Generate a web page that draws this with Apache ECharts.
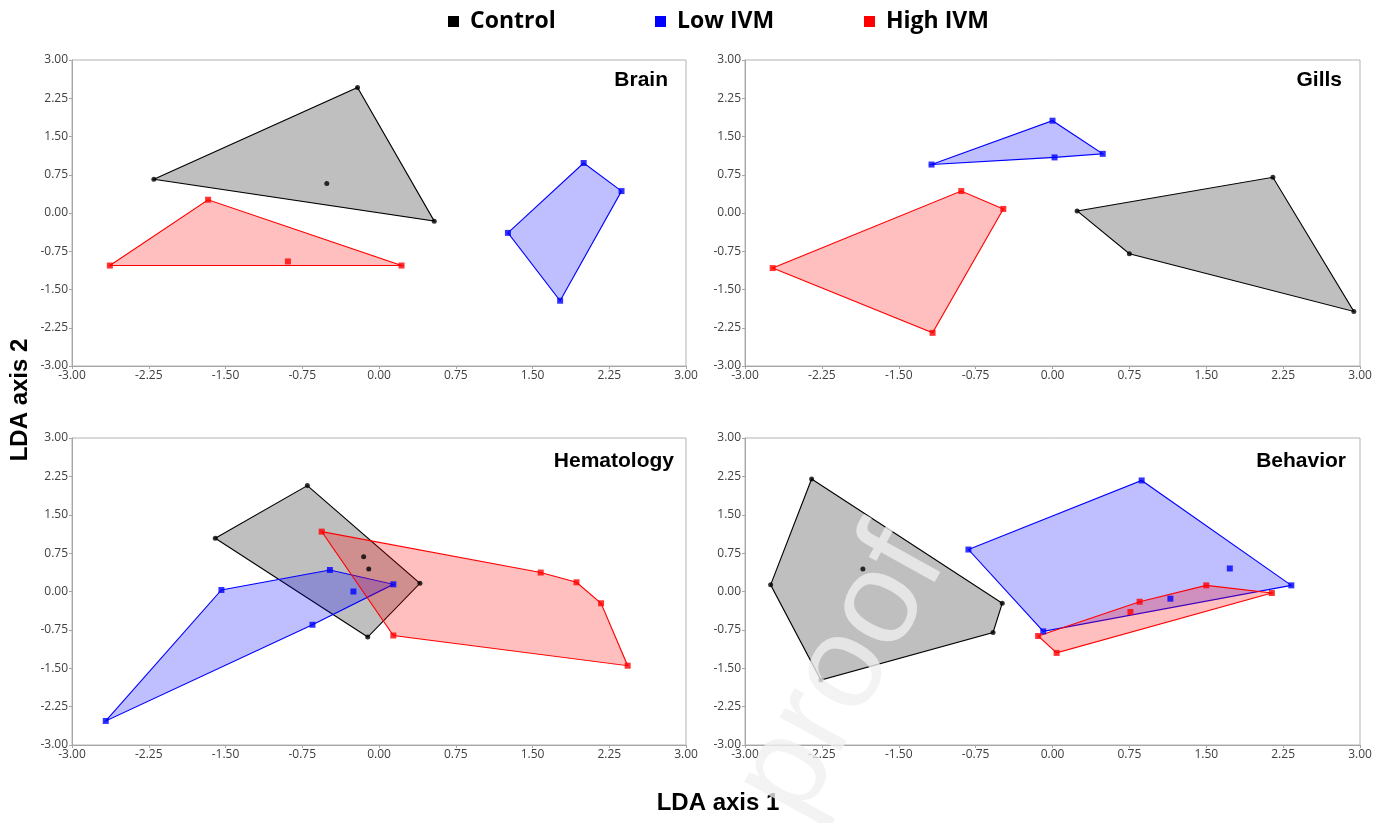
<!DOCTYPE html>
<html>
<head>
<meta charset="utf-8">
<title>LDA convex hulls by tissue</title>
<script src="https://cdn.jsdelivr.net/npm/echarts@6/dist/echarts.min.js"></script>
<style>
  html, body { margin: 0; padding: 0; background: #ffffff; }
  #chart { width: 1393px; height: 823px; }
</style>
</head>
<body>
<div id="chart"></div>
<script>
// Group names and colours
const groups = ['Control', 'Low IVM', 'High IVM'];
const panelTitles = ['Brain', 'Gills', 'Hematology', 'Behavior'];
const axisTicks = [-3, -2.25, -1.5, -0.75, 0, 0.75, 1.5, 2.25, 3];

// Brain: hull vertices (in drawing order) and interior points, [LD1, LD2]
const brainControlHull = [[-2.20, 0.66], [-0.21, 2.46], [0.54, -0.16]];
const brainControlInner = [[-0.51, 0.58]];
const brainLowHull = [[1.26, -0.39], [2.00, 0.98], [2.37, 0.43], [1.77, -1.72]];
const brainLowInner = [];
const brainHighHull = [[-2.63, -1.03], [-1.67, 0.26], [0.22, -1.03]];
const brainHighInner = [[-0.89, -0.95]];

// Gills
const gillsControlHull = [[0.24, 0.04], [2.15, 0.70], [2.94, -1.93], [0.75, -0.80]];
const gillsControlInner = [];
const gillsLowHull = [[-1.18, 0.95], [0.00, 1.81], [0.49, 1.16], [0.02, 1.09]];
const gillsLowInner = [];
const gillsHighHull = [[-2.73, -1.08], [-0.89, 0.43], [-0.48, 0.08], [-1.17, -2.35]];
const gillsHighInner = [];

// Hematology
const hemaControlHull = [[-1.60, 1.04], [-0.70, 2.07], [0.40, 0.16], [-0.11, -0.89]];
const hemaControlInner = [[-0.15, 0.68], [-0.10, 0.44]];
const hemaLowHull = [[-2.67, -2.53], [-1.54, 0.03], [-0.48, 0.42], [0.14, 0.14], [-0.65, -0.65]];
const hemaLowInner = [[-0.25, 0.00]];
const hemaHighHull = [[-0.56, 1.17], [1.58, 0.37], [1.93, 0.18], [2.17, -0.23], [2.43, -1.45], [0.14, -0.86]];
const hemaHighInner = [];

// Behavior
const behavControlHull = [[-2.35, 2.20], [-0.49, -0.23], [-0.58, -0.80], [-2.26, -1.73], [-2.75, 0.13]];
const behavControlInner = [[-1.85, 0.44]];
const behavLowHull = [[-0.82, 0.82], [0.87, 2.17], [2.33, 0.12], [-0.09, -0.78]];
const behavLowInner = [[1.73, 0.45], [1.15, -0.14]];
const behavHighHull = [[-0.14, -0.87], [0.85, -0.20], [1.50, 0.12], [2.14, -0.03], [0.04, -1.20]];
const behavHighInner = [[0.76, -0.40]];

const panels = [
  [[brainControlHull, brainControlInner], [brainLowHull, brainLowInner], [brainHighHull, brainHighInner]],
  [[gillsControlHull, gillsControlInner], [gillsLowHull, gillsLowInner], [gillsHighHull, gillsHighInner]],
  [[hemaControlHull, hemaControlInner], [hemaLowHull, hemaLowInner], [hemaHighHull, hemaHighInner]],
  [[behavControlHull, behavControlInner], [behavLowHull, behavLowInner], [behavHighHull, behavHighInner]]
];

const groupStyle = [
  { color: '#000000', fill: 'rgba(0,0,0,0.25)', symbol: 'circle', size: 5 },
  { color: '#0000ff', fill: 'rgba(0,0,255,0.25)', symbol: 'rect', size: 6 },
  { color: '#ff0000', fill: 'rgba(255,0,0,0.25)', symbol: 'rect', size: 6 }
];

// Plot rectangles: top-left, top-right, bottom-left, bottom-right
const grids = [
  { left: 72, top: 60, width: 614, height: 306 },
  { left: 745, top: 60, width: 615, height: 306 },
  { left: 72, top: 438, width: 614, height: 307 },
  { left: 745, top: 438, width: 615, height: 307 }
].map(g => Object.assign({ show: true, borderColor: '#b3b3b3', borderWidth: 1, backgroundColor: 'transparent' }, g));

const labelStyle = { color: '#404040', fontSize: 12, fontFamily: '"Open Sans", sans-serif' };

function makeAxis(i) {
  return {
    type: 'value', gridIndex: i,
    min: axisTicks[0], max: axisTicks[axisTicks.length - 1], interval: 0.75,
    splitLine: { show: false },
    axisLine: { show: true, onZero: false, lineStyle: { color: '#a6a6a6', width: 1 } },
    axisTick: { show: true, length: 3, lineStyle: { color: '#a6a6a6' } },
    axisLabel: Object.assign({ margin: 4, formatter: v => v.toFixed(2) }, labelStyle)
  };
}

const series = [];
// Hull polygons first so the points sit on top
panels.forEach((panel, p) => {
  panel.forEach(([hull], g) => {
    const st = groupStyle[g];
    series.push({
      type: 'custom', name: groups[g], xAxisIndex: p, yAxisIndex: p,
      data: hull, encode: { x: 0, y: 1 }, silent: true, z: 2 + g * 0.1,
      itemStyle: { color: st.color },
      renderItem(params, api) {
        if (params.dataIndex !== 0) return null;
        const pts = hull.map(d => api.coord(d));
        return {
          type: 'polygon',
          shape: { points: pts },
          style: { fill: st.fill, stroke: st.color, lineWidth: 1.1 }
        };
      }
    });
  });
});
panels.forEach((panel, p) => {
  panel.forEach(([hull, inner], g) => {
    const st = groupStyle[g];
    series.push({
      type: 'scatter', name: groups[g], xAxisIndex: p, yAxisIndex: p,
      data: hull.concat(inner), symbol: st.symbol, symbolSize: st.size,
      itemStyle: { color: st.color }, silent: true, z: 5
    });
  });
});

const legendText = { fontSize: 23, fontWeight: 'bold', color: '#000', fontFamily: '"Open Sans", sans-serif', padding: [0, 0, 0, 6] };
const legendLefts = [443, 650, 859];

const titlePos = [
  { right: 725, top: 70 }, { right: 51, top: 70 },
  { right: 719, top: 451 }, { right: 47, top: 451 }
];

const option = {
  animation: false,
  backgroundColor: '#ffffff',
  title: panelTitles.map((t, i) => Object.assign({
    text: t, padding: 0,
    textStyle: { fontSize: 21, fontWeight: 'bold', color: '#000', fontFamily: '"Liberation Sans", Arial, sans-serif' }
  }, titlePos[i])),
  legend: groups.map((g, i) => ({
    data: [g], left: legendLefts[i], top: 5, icon: 'rect',
    itemWidth: 11, itemHeight: 11, textStyle: legendText, selectedMode: false
  })),
  grid: grids,
  xAxis: grids.map((_, i) => makeAxis(i)),
  yAxis: grids.map((_, i) => makeAxis(i)),
  series: series,
  graphic: [
    {
      type: 'text', x: 20, y: 400, rotation: Math.PI / 2,
      style: { text: 'LDA axis 2', font: 'bold 24px "Liberation Sans", Arial, sans-serif', fill: '#000', align: 'center', verticalAlign: 'middle' }
    },
    {
      type: 'text', x: 718, y: 803,
      style: { text: 'LDA axis 1', font: 'bold 24px "Liberation Sans", Arial, sans-serif', fill: '#000', align: 'center', verticalAlign: 'middle' }
    },
    {
      type: 'text', x: 842, y: 674, rotation: 61 * Math.PI / 180, z: 100,
      style: { text: 'proof', font: '132px "Liberation Sans", Arial, sans-serif', fill: '#f0f0f0', opacity: 0.78, align: 'center', verticalAlign: 'middle' }
    }
  ]
};

const chart = echarts.init(document.getElementById('chart'), null, { renderer: 'canvas' });
chart.setOption(option);
</script>
</body>
</html>
